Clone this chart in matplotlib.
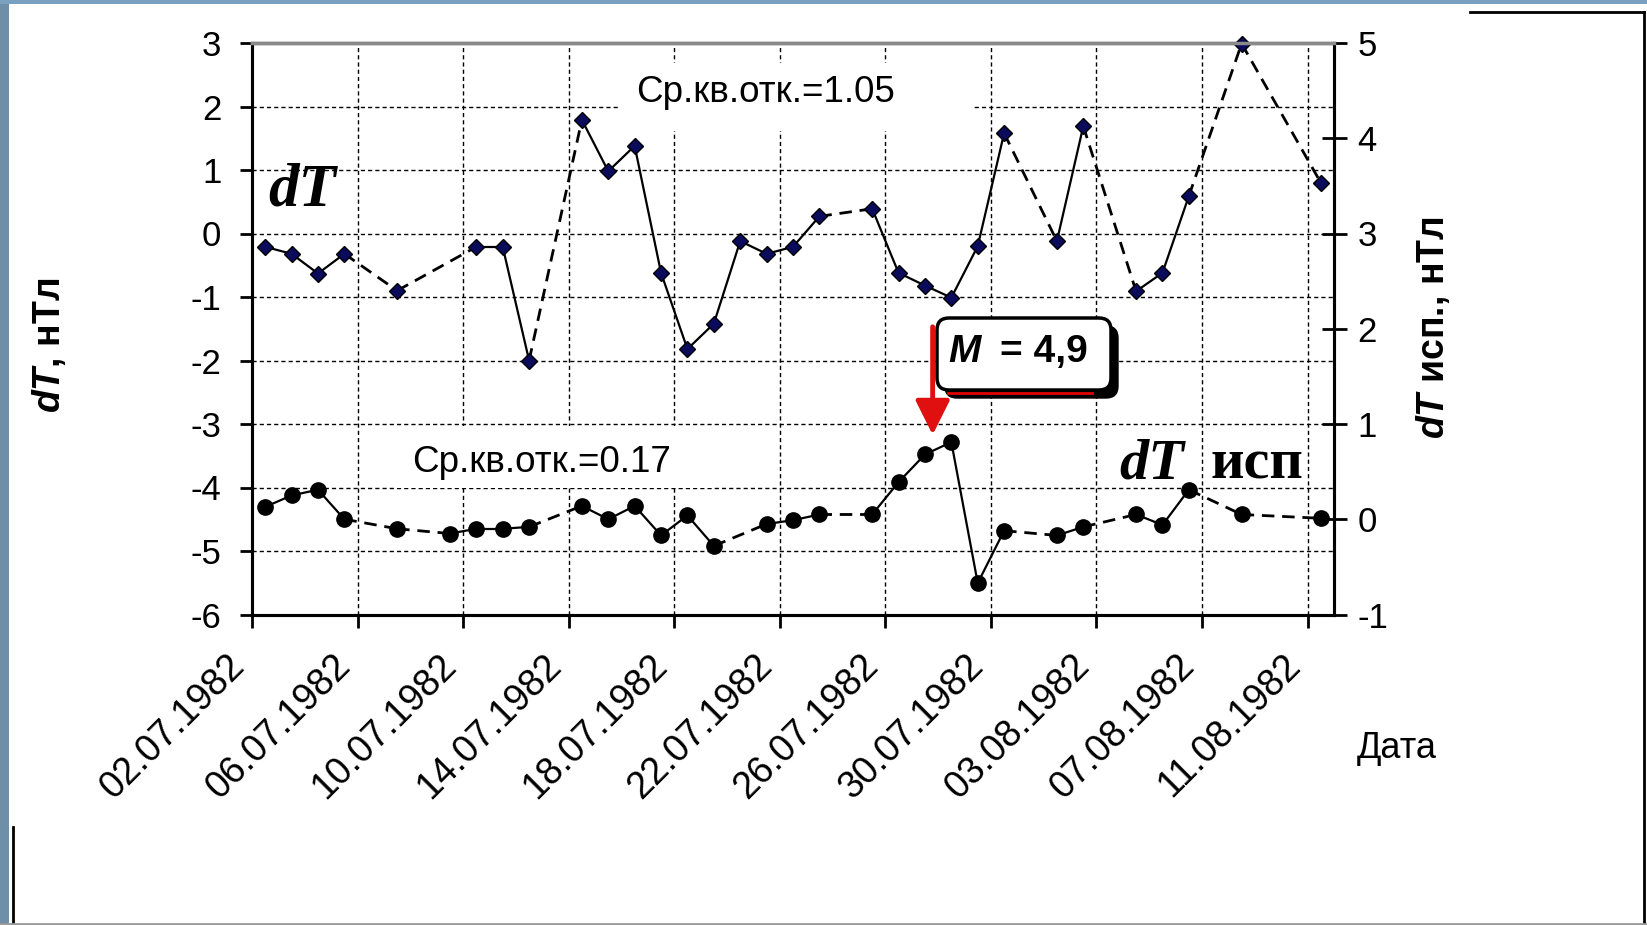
import matplotlib
matplotlib.use("Agg")
import matplotlib.pyplot as plt
import matplotlib.dates as mdates
from matplotlib.patches import FancyBboxPatch, Rectangle
from matplotlib.transforms import IdentityTransform
from matplotlib.lines import Line2D
from datetime import datetime

# ---------------- data ----------------
dt_dates = ["02.07.1982", "03.07.1982", "04.07.1982", "05.07.1982", "07.07.1982",
            "10.07.1982", "11.07.1982", "12.07.1982", "14.07.1982", "15.07.1982",
            "16.07.1982", "17.07.1982", "18.07.1982", "19.07.1982", "20.07.1982",
            "21.07.1982", "22.07.1982", "23.07.1982", "25.07.1982", "26.07.1982",
            "27.07.1982", "28.07.1982", "29.07.1982", "30.07.1982", "01.08.1982",
            "02.08.1982", "04.08.1982", "05.08.1982", "06.08.1982", "08.08.1982",
            "11.08.1982"]
dt_values = [-0.21, -0.32, -0.63, -0.32, -0.90,
             -0.21, -0.21, -2.00, 1.79, 0.98,
             1.38, -0.62, -1.82, -1.42, -0.12,
             -0.32, -0.21, 0.27, 0.39, -0.62,
             -0.82, -1.01, -0.20, 1.58, -0.12,
             1.69, -0.91, -0.62, 0.59, 2.99,
             0.80]

isp_dates = ["02.07.1982", "03.07.1982", "04.07.1982", "05.07.1982", "07.07.1982",
             "09.07.1982", "10.07.1982", "11.07.1982", "12.07.1982", "14.07.1982",
             "15.07.1982", "16.07.1982", "17.07.1982", "18.07.1982", "19.07.1982",
             "21.07.1982", "22.07.1982", "23.07.1982", "25.07.1982", "26.07.1982",
             "27.07.1982", "28.07.1982", "29.07.1982", "30.07.1982", "01.08.1982",
             "02.08.1982", "04.08.1982", "05.08.1982", "06.08.1982", "08.08.1982",
             "11.08.1982"]
isp_values = [0.13, 0.25, 0.31, 0.00, -0.10,
              -0.15, -0.10, -0.10, -0.08, 0.14,
              0.00, 0.14, -0.17, 0.04, -0.28,
              -0.05, -0.01, 0.05, 0.05, 0.39,
              0.68, 0.81, -0.67, -0.12, -0.17,
              -0.08, 0.05, -0.06, 0.31, 0.05,
              0.01]

x_tick_dates = ["02.07.1982", "06.07.1982", "10.07.1982", "14.07.1982", "18.07.1982",
                "22.07.1982", "26.07.1982", "30.07.1982", "03.08.1982", "07.08.1982",
                "11.08.1982"]
left_ticks = [-6, -5, -4, -3, -2, -1, 0, 1, 2, 3]
right_ticks = [-1, 0, 1, 2, 3, 4, 5]
sigma_dt = "Ср.кв.отк.=1.05"
sigma_isp = "Ср.кв.отк.=0.17"
m_value = "= 4,9"
x_start, x_end = "02.07.1982", "12.08.1982"
arrow_date, arrow_hours = "27.07.1982", 7   # arrow position (hours after noon)
arrow_from, arrow_to = -1.47, -3.17          # on left axis

# ---------------- style ----------------
plt.rcParams['font.family'] = ['Liberation Sans', 'DejaVu Sans']
plt.rcParams['axes.unicode_minus'] = False
plt.rcParams['mathtext.fontset'] = 'custom'
plt.rcParams['mathtext.bfit'] = 'Liberation Sans:italic:bold'
plt.rcParams['mathtext.it'] = 'Liberation Sans:italic'
plt.rcParams['mathtext.rm'] = 'Liberation Sans'
plt.rcParams['mathtext.bf'] = 'Liberation Sans:bold'

W, H = 1647, 925
fig = plt.figure(figsize=(W / 100, H / 100), dpi=100, facecolor='white')


def P(x, y):
    """pixel (from top-left) -> display coords"""
    return x, H - y


ax = fig.add_axes([252 / W, 1 - 614.5 / H, (1334 - 252) / W, (614.5 - 43) / H])
ax2 = ax.twinx()


def to_num(s):
    return mdates.date2num(datetime.strptime(s, "%d.%m.%Y"))


def series_x(dates):
    return [to_num(d) + 0.5 for d in dates]


def draw_series(a, dates, vals, marker, ms, mfc):
    xs = series_x(dates)
    for i in range(len(xs) - 1):
        consecutive = abs((xs[i + 1] - xs[i]) - 1.0) < 1e-6
        if consecutive:
            a.plot(xs[i:i + 2], vals[i:i + 2], color='black', lw=1.6,
                   solid_capstyle='round', zorder=2)
        else:
            a.plot(xs[i:i + 2], vals[i:i + 2], color='black', lw=2.0,
                   linestyle=(0, (4.5, 2.8)), zorder=2)
    a.plot(xs, vals, linestyle='none', marker=marker, ms=ms, mfc=mfc,
           mec='black', mew=1.0, zorder=3, clip_on=False)


draw_series(ax, dt_dates, dt_values, 'D', 8.0, '#0b0b5c')
draw_series(ax2, isp_dates, isp_values, 'o', 11.0, 'black')

ax.set_xlim(to_num(x_start), to_num(x_end))
ax.set_ylim(-6, 3)
ax2.set_ylim(-1, 5)
ax.set_yticks(left_ticks)
ax2.set_yticks(right_ticks)
ax.set_xticks([to_num(d) for d in x_tick_dates])
ax.xaxis.set_major_formatter(mdates.DateFormatter("%d.%m.%Y"))

ax.grid(True, color='black', lw=1.0, linestyle=(0, (3, 2.2)))

ax.tick_params(axis='x', direction='out', length=9.5, width=2, labelsize=27, pad=14)
ax.tick_params(axis='y', direction='out', length=9, width=2, labelsize=25, pad=13)
ax2.tick_params(axis='y', direction='inout', length=18, width=2, labelsize=25, pad=8)
for lab in ax.get_xticklabels():
    lab.set_rotation(45)
    lab.set_ha('right')
    lab.set_va('top')
    lab.set_rotation_mode('default')

for a in (ax, ax2):
    for s in ('left', 'right', 'bottom'):
        a.spines[s].set_linewidth(2.2)
        a.spines[s].set_color('black')
    a.spines['top'].set_color('#8a8a8a')
    a.spines['top'].set_linewidth(2.5)

# axis labels
fig.text(49 / W, 1 - 345 / H, r'$\mathbfit{dT}$, нТл', rotation=90, fontsize=27,
         fontweight='bold', ha='center', va='center')
fig.text(1433 / W, 1 - 328 / H, r'$\mathbfit{dT}$ исп., нТл', rotation=90, fontsize=27,
         fontweight='bold', ha='center', va='center')
fig.text(1397 / W, 1 - 748 / H, 'Дата', fontsize=26, ha='center', va='center')

# white boxes with sigma texts
ident = IdentityTransform()
for (x0, y0, x1, y1) in [(620, 63, 972, 131), (397, 426, 714, 488)]:
    r = Rectangle(P(x0, y1), x1 - x0, y1 - y0, transform=ident, facecolor='white',
                  edgecolor='none', zorder=1.7, clip_on=False)
    ax.add_artist(r)
ax.text(765 / W, 1 - 92 / H, sigma_dt, transform=fig.transFigure, fontsize=26.5,
        ha='center', va='center', zorder=1.8)
ax.text(542 / W, 1 - 462 / H, sigma_isp, transform=fig.transFigure, fontsize=26.5,
        ha='center', va='center', zorder=1.8)

# series labels (serif)
fig.text(268 / W, 1 - 205 / H, 'dT', fontfamily='Liberation Serif', fontstyle='italic',
         fontweight='bold', fontsize=44, ha='left', va='baseline')
fig.text(1119 / W, 1 - 478 / H, 'dT', fontfamily='Liberation Serif', fontstyle='italic',
         fontweight='bold', fontsize=42, ha='left', va='baseline')
fig.text(1211 / W, 1 - 478 / H, 'исп', fontfamily='Liberation Serif',
         fontweight='bold', fontsize=42, ha='left', va='baseline')

# M box with shadow
shadow = FancyBboxPatch(P(945, 398), 173, 72, boxstyle='round,pad=0,rounding_size=12',
                        transform=ident, facecolor='black', edgecolor='black',
                        zorder=2.4, clip_on=False)
ax.add_artist(shadow)
ax.add_artist(Line2D([948, 1092], [H - 393, H - 393], transform=ident, color='#e00000',
                     lw=2, zorder=2.45, clip_on=False))
box = FancyBboxPatch(P(937, 390), 174, 72, boxstyle='round,pad=0,rounding_size=12',
                     transform=ident, facecolor='white', edgecolor='black', lw=2.5,
                     zorder=2.5, clip_on=False)
ax.add_artist(box)
ax.text(948 / W, 1 - 362 / H, 'M', transform=fig.transFigure, fontsize=28,
        fontweight='bold', fontstyle='italic', ha='left', va='baseline', zorder=4)
ax.text(1000 / W, 1 - 362 / H, m_value, transform=fig.transFigure, fontsize=28,
        fontweight='bold', ha='left', va='baseline', zorder=4)

# red arrow
ax_x = to_num(arrow_date) + 0.5 + arrow_hours / 24.0
ax.annotate('', xy=(ax_x, arrow_to), xytext=(ax_x, arrow_from),
            arrowprops=dict(arrowstyle='-|>,head_length=0.7,head_width=0.35',
                            color='#e01010', lw=3.5, mutation_scale=30,
                            shrinkA=0, shrinkB=0), zorder=5)

# slide decorations
fig.patches.append(Rectangle((0, 0), 9, H, transform=ident, facecolor='#6f8ea8',
                             edgecolor='none', zorder=0))
fig.patches.append(Rectangle((0, H - 4), W, 4, transform=ident, facecolor='#7aa0c0',
                             edgecolor='none', zorder=0))
fig.lines.append(Line2D([1470, 1644], [H - 12, H - 12], transform=ident, color='black', lw=2))
fig.lines.append(Line2D([1644, 1644], [H - 12, 0], transform=ident, color='black', lw=2))
fig.lines.append(Line2D([13, 13], [H - 827, 0], transform=ident, color='black', lw=2))
fig.lines.append(Line2D([0, W], [1, 1], transform=ident, color='#9a9a9a', lw=2))

fig.savefig('out.png', dpi=100, facecolor='white')
